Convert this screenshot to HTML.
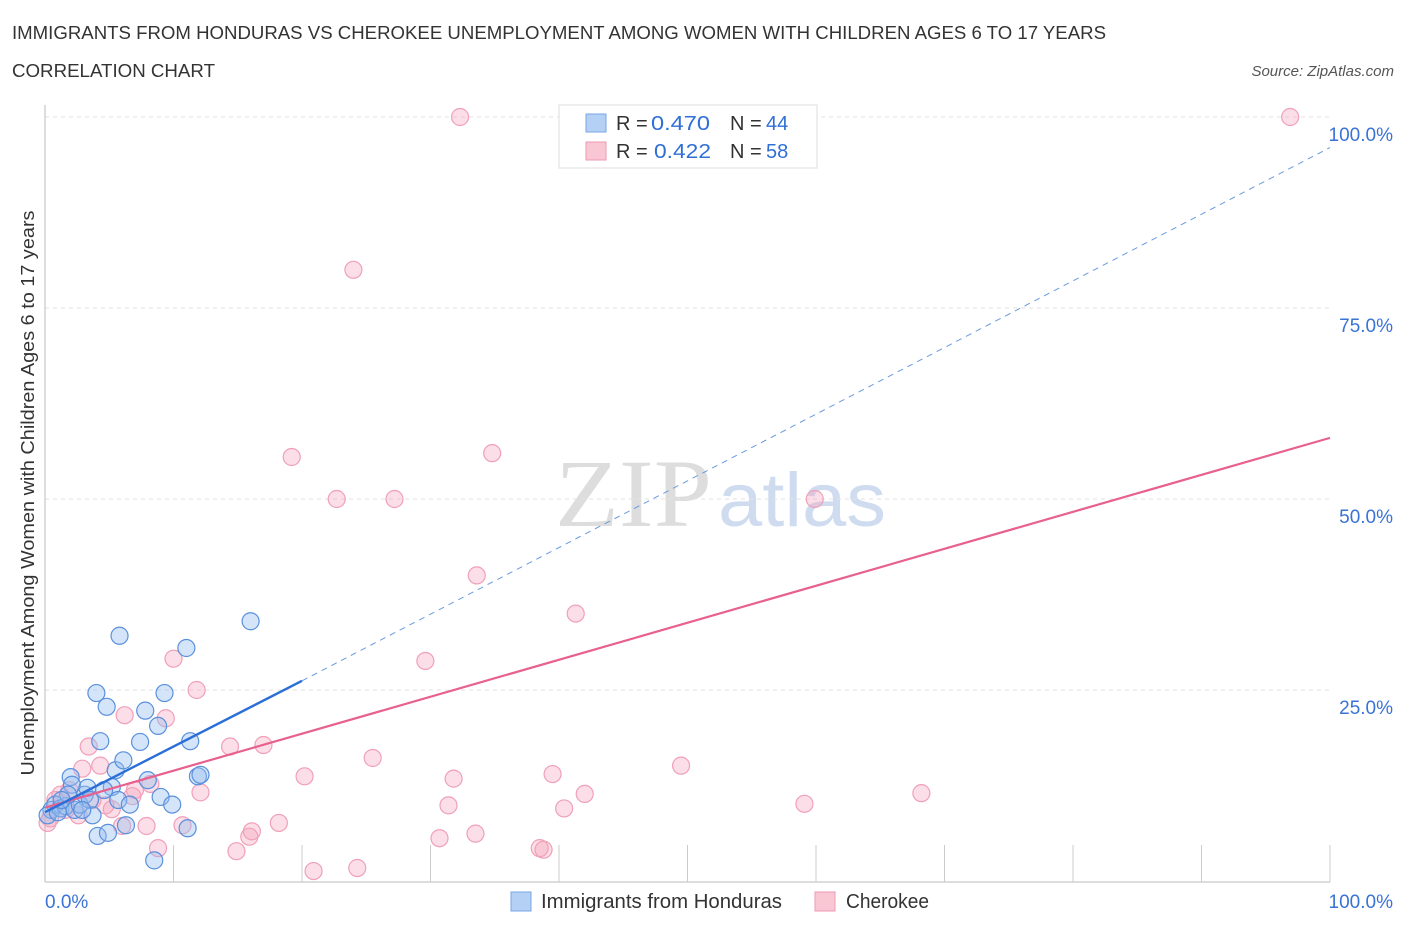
<!DOCTYPE html>
<html><head><meta charset="utf-8"><style>
body{margin:0;background:#fff;font-family:"Liberation Sans",sans-serif;}
</style></head><body>
<svg id="c" width="1406" height="930" xmlns="http://www.w3.org/2000/svg">
<text x="12" y="39" font-size="18" fill="#333" textLength="1094" lengthAdjust="spacingAndGlyphs">IMMIGRANTS FROM HONDURAS VS CHEROKEE UNEMPLOYMENT AMONG WOMEN WITH CHILDREN AGES 6 TO 17 YEARS</text>
<text x="12" y="77" font-size="18" fill="#333" textLength="203" lengthAdjust="spacingAndGlyphs">CORRELATION CHART</text>
<text x="1394" y="76" font-size="15" fill="#555" font-style="italic" text-anchor="end">Source: ZipAtlas.com</text>
<text x="34" y="493" font-size="18" fill="#333" text-anchor="middle" textLength="565" lengthAdjust="spacingAndGlyphs" transform="rotate(-90 34 493)">Unemployment Among Women with Children Ages 6 to 17 years</text>
<text x="555" y="526" font-size="96" fill="#ddd" font-family="Liberation Serif,serif" textLength="157" lengthAdjust="spacingAndGlyphs">ZIP</text>
<text x="718" y="526" font-size="76" fill="#cfdcf0" textLength="168" lengthAdjust="spacingAndGlyphs">atlas</text>
<g id="grid"></g><g id="marks"></g>
<g>
<rect x="559" y="105" width="258" height="63" fill="#fff" stroke="#ddd"/>
<rect x="586" y="114" width="20" height="18" fill="#b5d0f5" stroke="#7aa6e6"/>
<text x="616" y="130" font-size="20" fill="#333">R =</text>
<text x="651" y="130" font-size="20" fill="#2f6fd6" textLength="59" lengthAdjust="spacingAndGlyphs">0.470</text>
<text x="730" y="130" font-size="20" fill="#333">N =</text>
<text x="766" y="130" font-size="20" fill="#2f6fd6">44</text>
<rect x="586" y="142" width="20" height="18" fill="#f9c6d4" stroke="#ee9ab3"/>
<text x="616" y="158" font-size="20" fill="#333">R =</text>
<text x="654" y="158" font-size="20" fill="#2f6fd6" textLength="57" lengthAdjust="spacingAndGlyphs">0.422</text>
<text x="730" y="158" font-size="20" fill="#333">N =</text>
<text x="766" y="158" font-size="20" fill="#2f6fd6">58</text>
</g>
<g>
<rect x="511" y="892" width="20" height="19" fill="#b5d0f5" stroke="#7aa6e6"/>
<text x="541" y="908" font-size="20" fill="#333" textLength="241" lengthAdjust="spacingAndGlyphs">Immigrants from Honduras</text>
<rect x="815" y="892" width="20" height="19" fill="#f9c6d4" stroke="#ee9ab3"/>
<text x="846" y="908" font-size="20" fill="#333" textLength="83" lengthAdjust="spacingAndGlyphs">Cherokee</text>
</g>
</svg>
<script>
const yTicks=[25,50,75,100];
const xTickLabels=["0.0%","100.0%"];
const blueX=[0.5,0.8,0.2,1.2,1.6,2.0,2.1,2.3,2.7,3.1,3.3,3.5,3.7,4.0,4.1,4.3,4.8,4.9,5.2,5.5,5.8,6.1,6.3,7.4,7.8,8.5,8.8,9.0,9.3,9.9,11.0,11.1,11.3,11.9,16.0,1.8,1.0,1.3,2.9,4.6,5.7,6.6,8.0,12.1];
const blueY=[9.3,10.0,8.6,9.5,9.8,13.6,12.6,9.3,10.0,11.3,12.2,10.6,8.6,24.6,5.9,18.3,22.8,6.3,12.3,14.5,32.1,15.8,7.3,18.2,22.3,2.7,20.3,11.0,24.6,10.0,30.5,6.9,18.3,13.7,34.0,11.3,9.0,10.6,9.3,11.9,10.6,10.0,13.2,13.9];
const pinkX=[32.3,96.9,24.0,19.2,34.8,22.7,27.2,59.9,33.6,41.3,29.6,10.0,11.8,6.2,9.4,14.4,17.0,3.4,4.3,2.9,25.5,20.2,31.8,39.5,49.5,8.2,12.1,42.0,68.2,59.1,31.4,40.4,6.8,5.2,18.2,16.1,15.9,10.7,7.9,6.0,30.7,33.5,14.9,8.8,38.5,38.8,20.9,24.3,0.4,0.8,1.2,1.9,4.7,2.6,1.6,0.2,3.7,7.0];
const pinkY=[100,100,80,55.5,56,50,50,50,40,35,28.8,29.1,25,21.7,21.3,17.6,17.8,17.6,15.1,14.7,16.1,13.7,13.4,14.0,15.1,12.7,11.6,11.4,11.5,10.1,9.9,9.5,11.1,9.4,7.6,6.5,5.8,7.3,7.2,7.2,5.6,6.2,3.9,4.3,4.3,4.1,1.3,1.7,8.2,10.6,11.3,11.9,9.9,8.6,9.3,7.6,10.6,11.9];
const blueTrend=[[0,9.0],[20,26.2],[100,96.0]];
const pinkTrend=[[0,9.6],[100,58.0]];
const X=v=>45+v*12.85, Y=v=>881-v*7.64;
const NS="http://www.w3.org/2000/svg";
function mk(t,a,p){const e=document.createElementNS(NS,t);for(const k in a)e.setAttribute(k,a[k]);p.appendChild(e);return e;}
const g=document.getElementById('grid'),m=document.getElementById('marks');
yTicks.forEach(t=>{
 const l=mk('line',{x1:45,x2:1330,y1:Y(t),y2:Y(t),stroke:'#e2e2e2','stroke-dasharray':'4 4'},g);
 
 
 const tx=mk('text',{x:1393,y:Y(t)+24,'font-size':19,fill:'#3a73d6','text-anchor':'end'},g);tx.textContent=t.toFixed(1)+'%';
 
 
});
const ax=mk('line',{x1:45,x2:45,y1:105,y2:882,stroke:'#bbb'},g);


const bx=mk('line',{x1:45,x2:1330,y1:882,y2:882,stroke:'#bbb'},g);


for(let i=1;i<=10;i++){const tk=mk('line',{x1:X(i*10),x2:X(i*10),y1:845,y2:882,stroke:'#ccc'},g);
 
 }
[[0,'start',45],[100,'end',1393]].forEach((d,i)=>{const tx=mk('text',{x:d[2],y:908,'font-size':19,fill:'#3a73d6','text-anchor':d[1]},g);tx.textContent=xTickLabels[i];
 
 });
pinkX.forEach((v,i)=>{const c=mk('circle',{cx:X(v),cy:Y(pinkY[i]),r:8.5,fill:'rgba(244,160,185,0.35)',stroke:'#f0a0b8','stroke-width':1.2},m);
 
 });
blueX.forEach((v,i)=>{const c=mk('circle',{cx:X(v),cy:Y(blueY[i]),r:8.5,fill:'rgba(150,190,240,0.4)',stroke:'#5a90dd','stroke-width':1.2},m);
 
 });
const pl=mk('line',{x1:X(pinkTrend[0][0]),y1:Y(pinkTrend[0][1]),x2:X(pinkTrend[1][0]),y2:Y(pinkTrend[1][1]),stroke:'#e8608e','stroke-width':2.2},m);


const bl=mk('line',{x1:X(blueTrend[0][0]),y1:Y(blueTrend[0][1]),x2:X(blueTrend[1][0]),y2:Y(blueTrend[1][1]),stroke:'#2a6fd8','stroke-width':2.4},m);


const bd=mk('line',{x1:X(blueTrend[1][0]),y1:Y(blueTrend[1][1]),x2:X(blueTrend[2][0]),y2:Y(blueTrend[2][1]),stroke:'#6a9ae0','stroke-width':1,'stroke-dasharray':'6 5'},m);


</script>
</body></html>
